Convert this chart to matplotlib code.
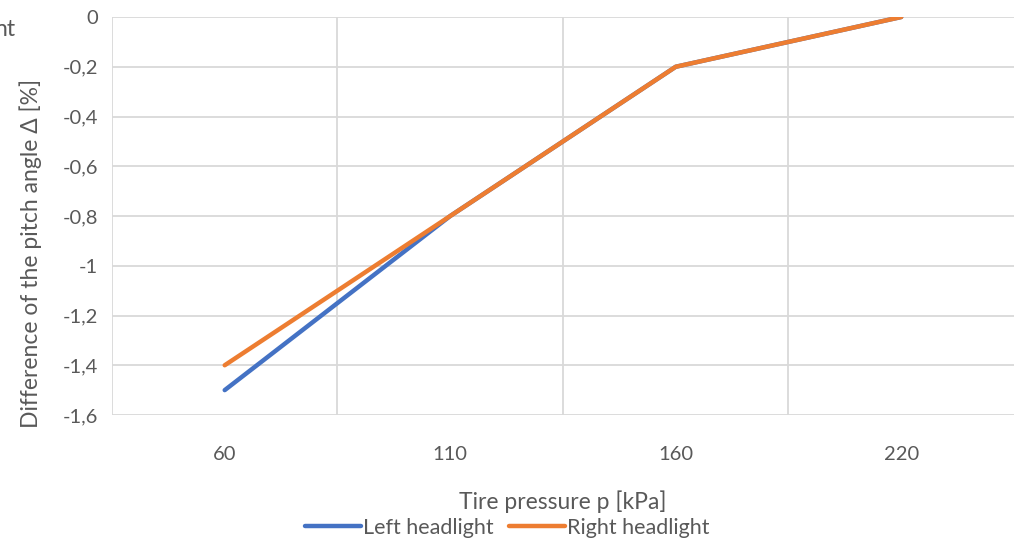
import matplotlib.pyplot as plt

# Dados do gráfico
pressoes = ['60', '110', '160', '220']
farol_esquerdo = [-1.5, -0.8, -0.2, 0.0]
farol_direito = [-1.4, -0.8, -0.2, 0.0]
yticks = [0, -0.2, -0.4, -0.6, -0.8, -1.0, -1.2, -1.4, -1.6]

cinza_texto = '#595959'
cinza_grade = '#d9d9d9'
plt.rcParams['font.family'] = ['Lato', 'DejaVu Sans']

fig = plt.figure(figsize=(10.15, 5.42), dpi=100)
ax = fig.add_axes([0.1103, 0.2343, 0.8887, 0.7343])

x = range(len(pressoes))
ax.plot(x, farol_esquerdo, color='#4472C4', lw=3.2, solid_capstyle='round',
        label='Left headlight', zorder=3)
ax.plot(x, farol_direito, color='#ED7D31', lw=3.2, solid_capstyle='round',
        label='Right headlight', zorder=4)

ax.set_xlim(-0.5, len(pressoes) - 0.5)
ax.set_ylim(-1.6, 0)

# Grade vertical entre categorias (estilo Excel)
for xv in [-0.5, 0.5, 1.5, 2.5]:
    ax.axvline(xv, color=cinza_grade, lw=1.3, zorder=1)
for yv in yticks:
    ax.axhline(yv, color=cinza_grade, lw=1.3, zorder=1)

ax.set_xticks(list(x))
ax.set_xticklabels(pressoes)
ax.set_yticks(yticks)
ax.set_yticklabels([('%g' % v).replace('.', ',') for v in yticks])
ax.tick_params(length=0, labelsize=14.5, colors=cinza_texto)
ax.tick_params(axis='x', pad=22)
ax.tick_params(axis='y', pad=10)

for s in ax.spines.values():
    s.set_visible(False)

ax.set_xlabel('Tire pressure p [kPa]', fontsize=16.5, color=cinza_texto, labelpad=20)
ax.set_ylabel('Difference of the pitch angle Δ [%]', fontsize=16.5, color=cinza_texto)
ax.yaxis.set_label_coords(-0.078, 0.405)

# Pedaço de texto cortado no canto superior esquerdo
fig.text(-0.006, 0.945, 'nt', fontsize=16.5, color=cinza_texto, va='center')

leg = fig.legend(loc='center', bbox_to_anchor=(0.5, 0.026), ncol=2, frameon=False,
                 fontsize=15.5, handlelength=2.6, handletextpad=0.1, columnspacing=0.7,
                 borderpad=0)
for t in leg.get_texts():
    t.set_color(cinza_texto)

fig.savefig('out.png', dpi=100)
